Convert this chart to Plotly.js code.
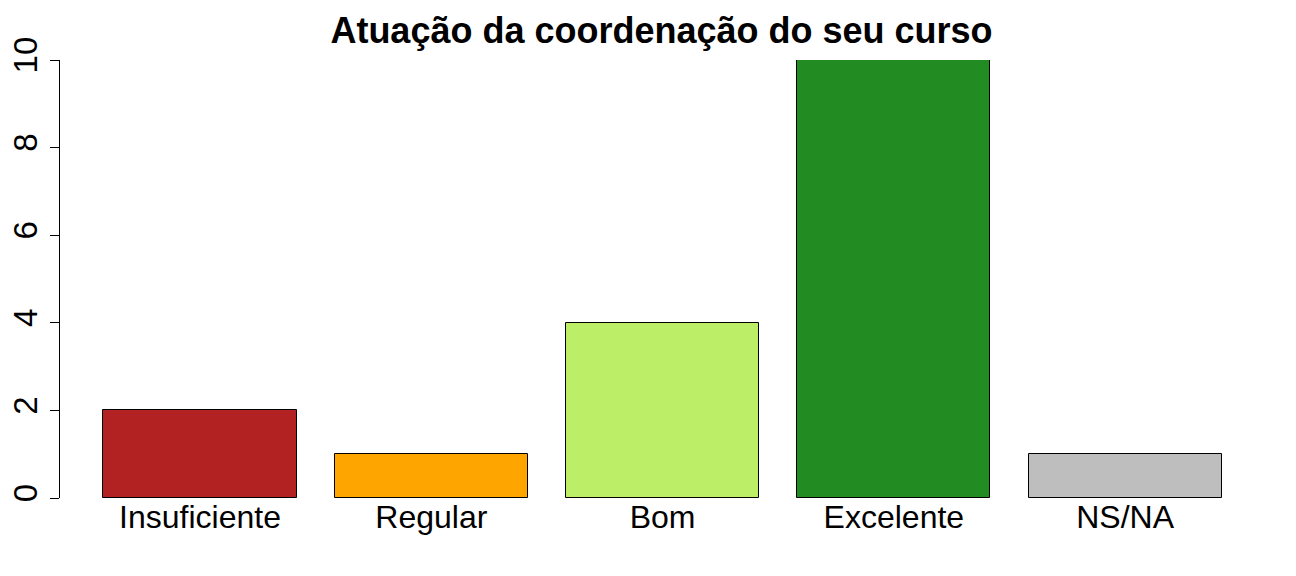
<!DOCTYPE html>
<html>
<head>
<meta charset="utf-8">
<script src="https://cdn.plot.ly/plotly-3.0.1.min.js"></script>
<style>html,body{margin:0;padding:0;background:#fff;}#chart{width:1296px;height:576px;}</style>
</head>
<body>
<div id="chart"></div>
<script>
const categories = ["Insuficiente", "Regular", "Bom", "Excelente", "NS/NA"];
const counts = [2, 1, 4, 10, 1];
const barColors = ["#B22222", "#FFA500", "#BCEE68", "#228B22", "#BEBEBE"];
const yTicks = [0, 2, 4, 6, 8, 10];
const chartTitle = "Atuação da coordenação do seu curso";

const font = "Liberation Sans, Arial, sans-serif";

Plotly.newPlot("chart", [{
  type: "bar",
  x: categories,
  y: counts,
  width: 0.835,
  marker: {color: barColors, line: {color: "#000", width: 1}},
  hoverinfo: "x+y"
}], {
  width: 1296,
  height: 576,
  paper_bgcolor: "#fff",
  plot_bgcolor: "#fff",
  margin: {l: 60, r: 29, t: 60, b: 78, pad: 0},
  title: {
    text: chartTitle,
    font: {family: font, size: 36, color: "#000", weight: 700},
    xref: "container", x: 0.5104, xanchor: "center",
    yref: "container", y: 1 - 30/576, yanchor: "middle"
  },
  xaxis: {
    type: "category",
    range: [-0.6055, 4.6135],
    showline: false, ticks: "", showgrid: false, zeroline: false,
    ticklabelstandoff: -3,
    tickfont: {family: font, size: 32, color: "#000"}
  },
  yaxis: {
    range: [0, 10],
    tickvals: yTicks,
    ticktext: yTicks.map(String),
    showline: true, linecolor: "#000", linewidth: 1,
    ticks: "outside", ticklen: 9, tickwidth: 1, tickcolor: "#000",
    showgrid: false, zeroline: false,
    tickangle: -90,
    tickfont: {family: font, size: 33, color: "#000"}
  },
  showlegend: false,
  bargap: 0
}, {displayModeBar: false, staticPlot: false});
</script>
</body>
</html>
